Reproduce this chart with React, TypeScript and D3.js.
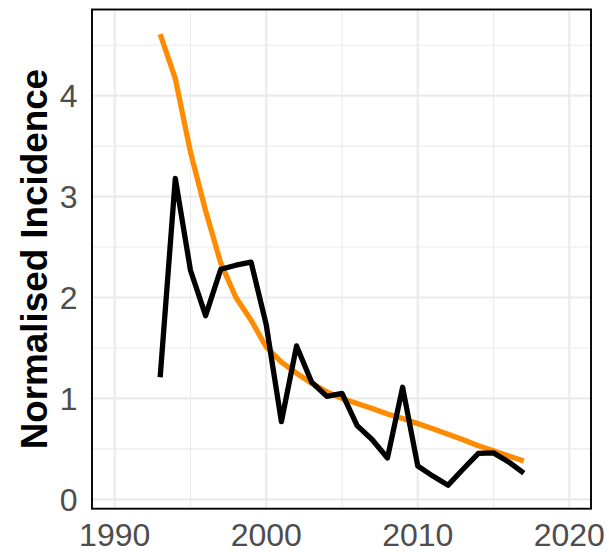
import React from "react";
import * as d3 from "d3";

const years: number[] = [1993,1994,1995,1996,1997,1998,1999,2000,2001,2002,2003,2004,2005,2006,2007,2008,2009,2010,2011,2012,2013,2014,2015,2016,2017];
const observed: number[] = [1.21,3.18,2.27,1.82,2.28,2.32,2.35,1.73,0.77,1.52,1.16,1.02,1.05,0.73,0.59,0.41,1.11,0.33,0.23,0.14,0.30,0.455,0.46,0.37,0.26];
const modelled: number[] = [4.61,4.17,3.44,2.86,2.34,2.0,1.775,1.51,1.36,1.25,1.15,1.065,1.0,0.95,0.90,0.845,0.80,0.75,0.70,0.645,0.59,0.53,0.48,0.43,0.38];
const xTicks: number[] = [1990, 2000, 2010, 2020];
const xMinor: number[] = [1995, 2005, 2015];
const yTicks: number[] = [0, 1, 2, 3, 4];
const yMinor: number[] = [0.5, 1.5, 2.5, 3.5, 4.5];
const yTitle = "Normalised Incidence";

export default function App() {
  const W = 609, H = 552;
  const pL = 92, pR = 591, pT = 9.5, pB = 508.7;
  const x = d3.scaleLinear().domain([1990, 2020]).range([114.7, 569.3]);
  const y = d3.scaleLinear().domain([0, 4]).range([499.3, 95.7]);
  const line = d3.line<number>().x((_, i) => x(years[i])).y((d) => y(d));
  const font = "'Liberation Sans', Arial, sans-serif";
  return (
    <svg width={W} height={H} style={{ position: "absolute", left: 0, top: 0 }} fontFamily={font}>
      <rect x={0} y={0} width={W} height={H} fill="#fff" />
      <g>
        {yMinor.map((t) => (
          <line key={"ym" + t} x1={pL} x2={pR} y1={y(t)} y2={y(t)} stroke="#EBEBEB" strokeWidth={1.1} />
        ))}
        {xMinor.map((t) => (
          <line key={"xm" + t} x1={x(t)} x2={x(t)} y1={pT} y2={pB} stroke="#EBEBEB" strokeWidth={1.1} />
        ))}
        {yTicks.map((t) => (
          <line key={"y" + t} x1={pL} x2={pR} y1={y(t)} y2={y(t)} stroke="#EBEBEB" strokeWidth={2.2} />
        ))}
        {xTicks.map((t) => (
          <line key={"x" + t} x1={x(t)} x2={x(t)} y1={pT} y2={pB} stroke="#EBEBEB" strokeWidth={2.2} />
        ))}
      </g>
      <path d={line(modelled) ?? ""} fill="none" stroke="#FF8C00" strokeWidth={5.3} strokeLinejoin="round" strokeLinecap="butt" />
      <path d={line(observed) ?? ""} fill="none" stroke="#000" strokeWidth={5.3} strokeLinejoin="round" strokeLinecap="butt" />
      <rect x={pL} y={pT} width={pR - pL} height={pB - pT} fill="none" stroke="#000" strokeWidth={1.9} />
      {yTicks.map((t) => (
        <text key={"yl" + t} x={77.5} y={y(t)} dy="0.36em" textAnchor="end" fontSize={32} fill="#4D4D4D">
          {t}
        </text>
      ))}
      {xTicks.map((t) => (
        <text key={"xl" + t} x={x(t)} y={546.3} textAnchor="middle" fontSize={32} fill="#4D4D4D">
          {t}
        </text>
      ))}
      <text
        transform={`translate(46.5, ${(pT + pB) / 2}) rotate(-90)`}
        textAnchor="middle"
        fontSize={36.8}
        fontWeight="bold"
        fill="#000"
      >
        {yTitle}
      </text>
    </svg>
  );
}
